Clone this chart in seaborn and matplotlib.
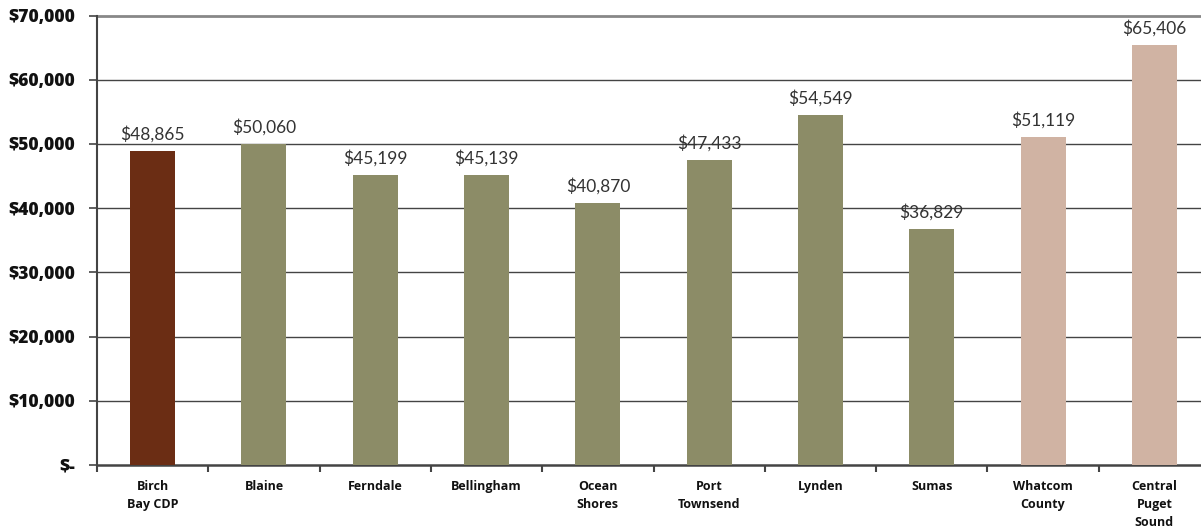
import matplotlib
matplotlib.use("Agg")
import matplotlib.pyplot as plt
import seaborn as sns
import pandas as pd
from matplotlib.ticker import FuncFormatter

categories = ["Birch\nBay CDP", "Blaine", "Ferndale", "Bellingham", "Ocean\nShores",
              "Port\nTownsend", "Lynden", "Sumas", "Whatcom\nCounty", "Central\nPuget\nSound"]
values = [48865, 50060, 45199, 45139, 40870, 47433, 54549, 36829, 51119, 65406]
colors = ["#6B2D14", "#8C8C67", "#8C8C67", "#8C8C67", "#8C8C67",
          "#8C8C67", "#8C8C67", "#8C8C67", "#D0B3A3", "#D0B3A3"]
yticks = [0, 10000, 20000, 30000, 40000, 50000, 60000, 70000]

df = pd.DataFrame({"place": categories, "income": values})

sns.set_theme(style="white")
plt.rcParams["font.family"] = ["Open Sans", "DejaVu Sans"]

fig = plt.figure(figsize=(12.01, 5.27), dpi=100)
ax = fig.add_axes([97 / 1201, 62 / 527, (1210 - 97) / 1201, (465 - 15.5) / 527])

sns.barplot(data=df, x="place", y="income", hue="place", palette=colors,
            legend=False, width=0.405, ax=ax, saturation=1, zorder=3, linewidth=0)

ax.set_xlim(-0.5, 9.5)
ax.set_ylim(0, 70000)
ax.set_yticks(yticks)
ax.yaxis.set_major_formatter(FuncFormatter(lambda v, p: "$-" if v == 0 else f"${v:,.0f}"))
for lbl in ax.get_yticklabels():
    lbl.set_fontweight("heavy")
    lbl.set_fontsize(12.5)
    lbl.set_color("#111111")

ax.set_xlabel("")
ax.set_ylabel("")
ax.set_xticks(range(len(categories)))
ax.set_xticklabels(categories, fontsize=9, fontweight="bold", color="#111111", linespacing=1.5)
ax.tick_params(axis="x", which="major", length=0, pad=11)
ax.set_xticks([i - 0.5 for i in range(len(categories) + 1)], minor=True)
ax.tick_params(axis="x", which="minor", length=5, width=1.5, color="#444444", direction="out", bottom=True)
ax.tick_params(axis="y", length=6, width=1.2, color="#444444", direction="out", left=True, pad=10)

for v in yticks[1:-1]:
    ax.axhline(v, color="#444444", lw=1.0, zorder=1)
ax.axhline(70000, color="#888888", lw=2.0, zorder=1, clip_on=False)

for s in ["top", "right"]:
    ax.spines[s].set_visible(False)
ax.spines["left"].set_color("#444444")
ax.spines["left"].set_linewidth(1.5)
ax.spines["bottom"].set_color("#444444")
ax.spines["bottom"].set_linewidth(1.8)

for cont in ax.containers:
    ax.bar_label(cont, labels=[f"${h.get_height():,.0f}" for h in cont], padding=6,
                 fontsize=12.5, color="#333333", family=["Lato", "DejaVu Sans"],
                 zorder=4)

fig.savefig("out.png", dpi=100)
